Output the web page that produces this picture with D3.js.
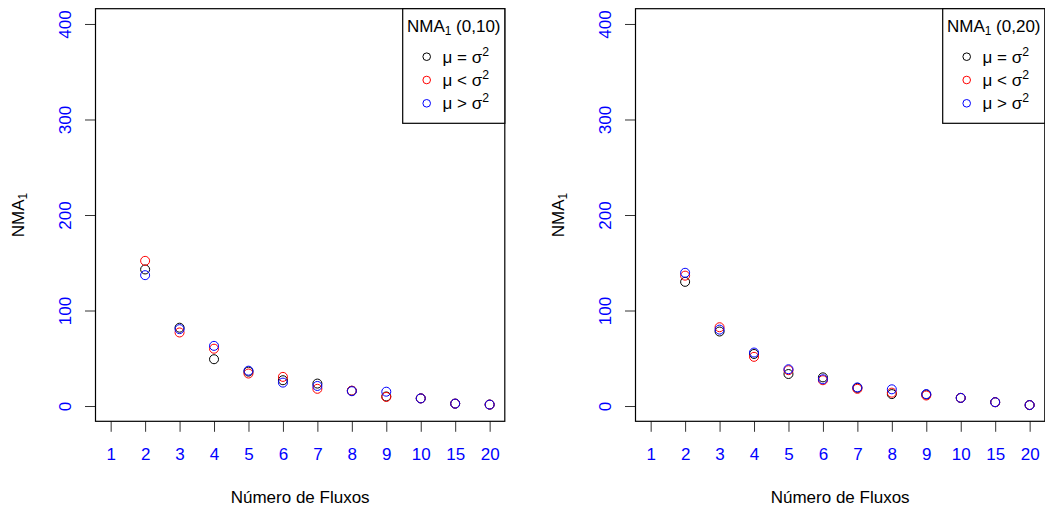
<!DOCTYPE html>
<html>
<head>
<meta charset="utf-8">
<script src="https://cdn.jsdelivr.net/npm/d3@7"></script>
<style>
  html, body { margin: 0; padding: 0; background: #fff; }
  svg text { font-family: "Liberation Sans", Arial, Helvetica, sans-serif; }
</style>
</head>
<body>
<svg id="chart" width="1045" height="509"></svg>
<script>
// Flow counts on the x axis (category labels)
const categories = ["1", "2", "3", "4", "5", "6", "7", "8", "9", "10", "15", "20"];
const yTicks = [0, 100, 200, 300, 400];

// NMA1 (0,10): values per flow count (no value for a single flow)
const eq10 = [null, 143, 82, 49, 36, 27, 23.5, 16, 10, 8, 2.5, 1.5];
const lt10 = [null, 152, 77, 60, 34, 30.5, 18, 16, 9.5, 8, 2.5, 1.5];
const gt10 = [null, 137, 80.5, 63, 37, 24.5, 21, 15.5, 15, 8, 2.5, 1.5];

// NMA1 (0,20)
const eq20 = [null, 130, 78, 54.5, 33.5, 30, 19, 12.5, 12, 8.5, 4, 1];
const lt20 = [null, 136.5, 82.5, 51.5, 37.5, 27, 18, 14, 11, 8.5, 4, 1];
const gt20 = [null, 139.5, 80, 56, 38.5, 28, 19.5, 17.5, 12.5, 8.5, 4, 1];

const panelTitles = ["(0,10)", "(0,20)"];
const seriesColors = ["#000000", "#ff0000", "#0000ff"];
const seriesOps = ["=", "<", ">"];

const svg = d3.select("#chart");
const FS = 17;

function drawPanel(ox, title, series) {
  const g = svg.append("g").attr("transform", `translate(${ox},0)`);
  const left = 95.5, right = 504.8, top = 8.7, bottom = 421.3;

  const x = d3.scalePoint().domain(categories).range([left, right]).padding(0.44);
  const y = d3.scaleLinear().domain([-16, 416]).range([bottom, top]);

  // x axis
  const xa = g.append("g").attr("transform", `translate(0,${bottom})`)
    .call(d3.axisBottom(x).tickSize(10.5).tickPadding(16));
  xa.select(".domain").remove();
  xa.selectAll(".tick line").attr("stroke", "#333").attr("stroke-width", 1);
  xa.selectAll(".tick text").attr("fill", "#0000ff").attr("font-size", FS)
    .attr("font-family", "Liberation Sans, Arial, sans-serif");

  // y axis
  const ya = g.append("g").attr("transform", `translate(${left},0)`)
    .call(d3.axisLeft(y).tickValues(yTicks).tickSize(10.5).tickPadding(0));
  ya.select(".domain").remove();
  ya.selectAll(".tick line").attr("stroke", "#333").attr("stroke-width", 1);
  ya.selectAll(".tick text")
    .attr("fill", "#0000ff").attr("font-size", FS)
    .attr("font-family", "Liberation Sans, Arial, sans-serif")
    .attr("text-anchor", "middle")
    .attr("x", 0).attr("dy", 0)
    .attr("transform", "translate(-30.5,0) rotate(-90) translate(0,6)");

  // plot frame
  g.append("rect").attr("x", left).attr("y", top)
    .attr("width", right - left).attr("height", bottom - top)
    .attr("fill", "none").attr("stroke", "#000").attr("stroke-width", 1.2);

  // axis titles
  g.append("text").attr("x", (left + right) / 2).attr("y", 503)
    .attr("text-anchor", "middle").attr("font-size", FS).text("Número de Fluxos");

  const yt = g.append("text").attr("text-anchor", "middle").attr("font-size", FS)
    .attr("transform", `translate(24,${(top + bottom) / 2}) rotate(-90)`);
  yt.append("tspan").text("NMA");
  yt.append("tspan").attr("font-size", FS * 0.7).attr("dy", 3).text("1");

  // points
  series.forEach((vals, si) => {
    g.append("g").selectAll("circle")
      .data(categories.map((c, i) => ({ c, v: vals[i] })).filter(d => d.v !== null))
      .join("circle")
      .attr("cx", d => x(d.c)).attr("cy", d => y(d.v)).attr("r", 4.5)
      .attr("fill", "none").attr("stroke", seriesColors[si]).attr("stroke-width", 1);
  });

  // legend
  const lx = 402.7, ly = top;
  const lg = g.append("g");
  lg.append("rect").attr("x", lx).attr("y", ly).attr("width", right - lx).attr("height", 123.3 - ly)
    .attr("fill", "#fff").attr("stroke", "#000").attr("stroke-width", 1.2);
  const lt = lg.append("text").attr("x", (lx + right) / 2).attr("y", 31.5)
    .attr("text-anchor", "middle").attr("font-size", FS);
  lt.append("tspan").text("NMA");
  lt.append("tspan").attr("font-size", FS * 0.7).attr("dy", 3).text("1");
  lt.append("tspan").attr("dy", -3).text(" " + title);

  seriesOps.forEach((op, i) => {
    const cy = 56.7 + i * 23.3;
    lg.append("circle").attr("cx", 426.7).attr("cy", cy).attr("r", 3.8)
      .attr("fill", "none").attr("stroke", seriesColors[i]).attr("stroke-width", 1);
    const t = lg.append("text").attr("x", 442.5).attr("y", cy + 6).attr("font-size", FS);
    t.append("tspan").text("μ " + op + " σ");
    t.append("tspan").attr("font-size", FS * 0.72).attr("dy", -7).text("2");
  });
}

drawPanel(0, panelTitles[0], [eq10, lt10, gt10]);
drawPanel(540, panelTitles[1], [eq20, lt20, gt20]);
</script>
</body>
</html>
